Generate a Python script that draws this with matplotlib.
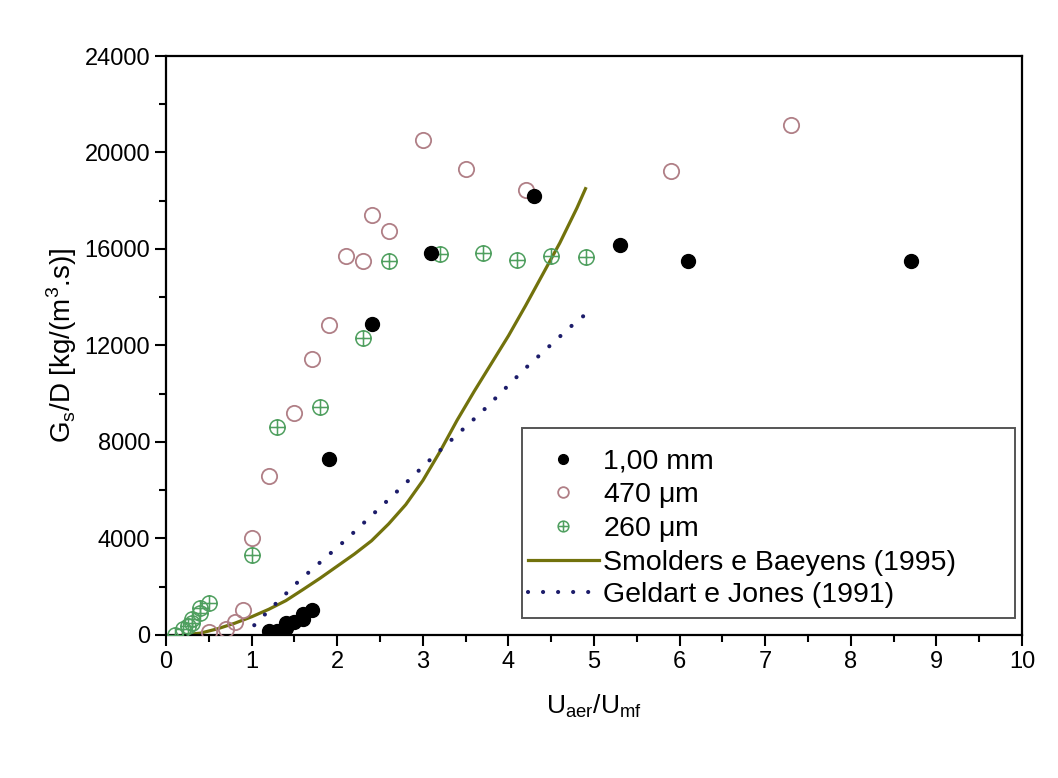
import matplotlib
matplotlib.use('Agg')
import matplotlib.pyplot as plt
import matplotlib.patches as mpatches
from matplotlib.path import Path
from matplotlib.ticker import MultipleLocator

plt.rcParams['font.family'] = ['Liberation Sans', 'DejaVu Sans']

# dados
x_1mm = [1.2, 1.3, 1.4, 1.4, 1.5, 1.6, 1.6, 1.7, 1.9, 2.4, 3.1, 4.3, 5.3, 6.1, 8.7]
y_1mm = [150, 150, 300, 480, 550, 650, 850, 1050, 7300, 12900, 15850, 18200, 16150, 15500, 15500]

x_470 = [0.5, 0.7, 0.8, 0.9, 1.0, 1.2, 1.5, 1.7, 1.9, 2.1, 2.3, 2.4, 2.6, 3.0, 3.5, 4.2, 5.9, 7.3]
y_470 = [100, 250, 550, 1050, 4000, 6600, 9200, 11450, 12850, 15700, 15500, 17400, 16750,
         20500, 19300, 18450, 19250, 21150]

x_260 = [0.1, 0.2, 0.25, 0.3, 0.3, 0.4, 0.4, 0.5, 1.0, 1.3, 1.8, 2.3, 2.6, 3.2, 3.7, 4.1, 4.5, 4.9]
y_260 = [0, 250, 350, 500, 650, 900, 1100, 1300, 3300, 8600, 9450, 12300, 15500, 15800,
         15850, 15550, 15700, 15650]

x_smolders = [0.2, 0.4, 0.6, 0.8, 1.0, 1.2, 1.4, 1.6, 1.8, 2.0, 2.2, 2.4, 2.6, 2.8,
              3.0, 3.2, 3.4, 3.6, 3.8, 4.0, 4.2, 4.4, 4.6, 4.8, 4.9]
y_smolders = [0, 70, 250, 480, 750, 1060, 1420, 1880, 2350, 2850, 3350, 3900, 4600, 5400,
              6400, 7600, 8900, 10100, 11250, 12400, 13650, 14950, 16250, 17700, 18500]

x_geldart = [1.03, 1.2, 1.55, 2.1, 2.62, 3.14, 3.69, 4.2, 4.72, 4.9]
y_geldart = [400, 1010, 2230, 3940, 5680, 7450, 9250, 11060, 12760, 13290]

# marcador círculo com cruz
circ = Path.unit_circle()
cross = Path([[-1, 0], [1, 0], [0, -1], [0, 1]],
             [Path.MOVETO, Path.LINETO, Path.MOVETO, Path.LINETO])
oplus = Path.make_compound_path(circ, cross)

fig = plt.figure(figsize=(10.58, 7.78), dpi=100)
fig.patch.set_facecolor('white')
ax = fig.add_axes([0.157, 0.184, 0.809, 0.744])

ax.plot(x_1mm, y_1mm, 'o', ls='none', color='black', ms=10, label='1,00 mm', zorder=4)
ax.plot(x_470, y_470, 'o', ls='none', mfc='none', mec='#b07f86', mew=1.3, ms=11,
        label='470 $\\mathregular{\\mu}$m', zorder=3)
ax.plot(x_260, y_260, marker=oplus, ls='none', mfc='none', mec='#4f9f5f', mew=1.1, ms=11,
        label='260 $\\mathregular{\\mu}$m', zorder=3)
ax.plot(x_smolders, y_smolders, '-', color='#72720c', lw=2.3,
        label='Smolders e Baeyens (1995)', zorder=2)
ax.plot(x_geldart, y_geldart, color='#1c1c6a', lw=3.0, ls=(0, (0.01, 3.6)),
        dash_capstyle='round', label='Geldart e Jones (1991)', zorder=2)

ax.set_xlim(0, 10)
ax.set_ylim(0, 24000)
ax.xaxis.set_major_locator(MultipleLocator(1))
ax.xaxis.set_minor_locator(MultipleLocator(0.5))
ax.yaxis.set_major_locator(MultipleLocator(4000))
ax.yaxis.set_minor_locator(MultipleLocator(2000))
ax.tick_params(which='both', direction='out', top=False, right=False, width=1.5,
               labelsize=17)
ax.tick_params(which='major', length=8)
ax.tick_params(which='minor', length=5)
for s in ax.spines.values():
    s.set_linewidth(1.6)

ax.set_xlabel('U$_\\mathregular{aer}$/U$_\\mathregular{mf}$', fontsize=19, labelpad=14)
ax.set_ylabel('G$_\\mathregular{s}$/D [kg/(m$^\\mathregular{3}$.s)]', fontsize=20, labelpad=4)

# caixa da legenda desenhada à parte (mais larga que o conteúdo)
box = mpatches.Rectangle((0.416, 0.029), 0.576, 0.3285, transform=ax.transAxes,
                         facecolor='white', edgecolor='#555555', lw=1.4, zorder=5)
ax.add_patch(box)

leg = ax.legend(loc='upper left', bbox_to_anchor=(0.416, 0.331), fontsize=20.5,
                frameon=False, markerscale=0.7,
                handlelength=2.5, handletextpad=0.15, labelspacing=0.2,
                borderpad=0.2, borderaxespad=0)
leg.set_zorder(6)

plt.savefig('out.png', dpi=100, facecolor='white')
